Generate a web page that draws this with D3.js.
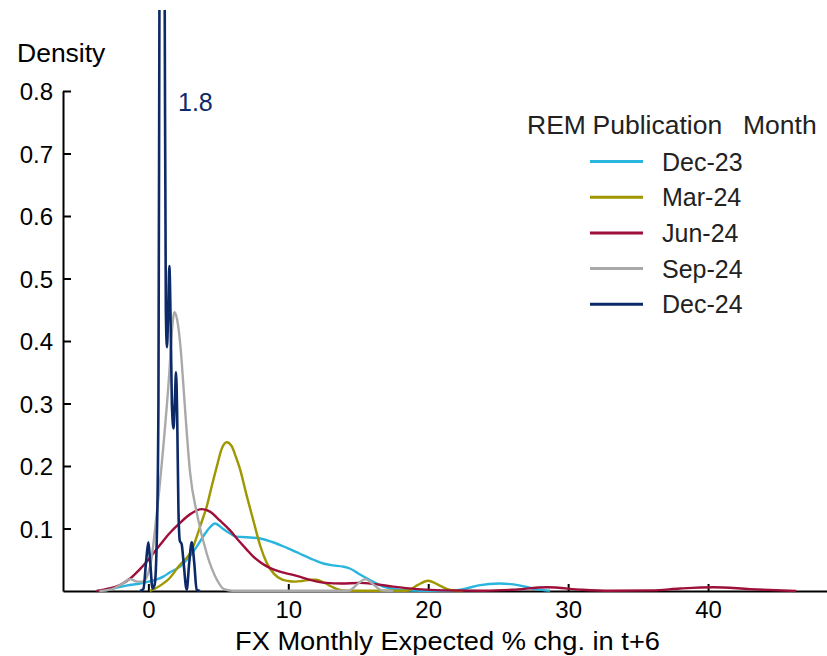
<!DOCTYPE html>
<html>
<head>
<meta charset="utf-8">
<script src="https://cdn.jsdelivr.net/npm/d3@7"></script>
<style>
  html, body { margin: 0; padding: 0; background: #ffffff; }
  svg { display: block; font-family: "Liberation Sans", Arial, sans-serif; }
</style>
</head>
<body>
<svg id="chart" width="827" height="656"></svg>
<script>
// ---- Data ----
const seriesNames = ["Dec-23", "Mar-24", "Jun-24", "Sep-24", "Dec-24"];
const seriesColors = ["#29b5de", "#9f9700", "#9e0f3a", "#a9a9a9", "#0d2a68"];

const xTicks = [0, 10, 20, 30, 40];
const yTicks = [0.1, 0.2, 0.3, 0.4, 0.5, 0.6, 0.7, 0.8];

// each point: [FX monthly expected % chg, density]
const dec23 = [[-3.4,0],[-2.5,0.004],[-1.5,0.009],[-0.6,0.012],[0,0.015],[1.07,0.023],[1.55,0.03],[2.26,0.039],[2.9,0.054],[3.46,0.071],[4.0,0.09],[4.4,0.102],[4.76,0.108],[5.3,0.1],[5.84,0.092],[6.3,0.087],[7.0,0.086],[7.98,0.084],[8.9,0.078],[9.9,0.069],[10.8,0.06],[11.8,0.05],[12.5,0.044],[13.2,0.041],[13.9,0.039],[14.4,0.036],[15.0,0.028],[15.8,0.018],[16.8,0.007],[18,0.002],[19.5,0.0005],[21.5,0.0005],[22.5,0.003],[23.6,0.009],[25.1,0.012],[26.5,0.009],[27.7,0.003],[28.7,0.0005]];

const mar24 = [[0.1,0],[0.5,0.004],[1.0,0.011],[1.5,0.02],[2.26,0.042],[2.7,0.052],[3.1,0.065],[3.46,0.087],[3.8,0.11],[4.17,0.135],[4.5,0.165],[4.89,0.199],[5.25,0.228],[5.6,0.238],[5.95,0.232],[6.25,0.215],[6.55,0.195],[7.0,0.155],[7.5,0.113],[8.0,0.072],[8.46,0.045],[9.0,0.027],[9.5,0.019],[10.0,0.016],[10.5,0.015],[11.0,0.016],[11.6,0.018],[12.0,0.018],[12.5,0.014],[13.0,0.008],[13.5,0.003],[14.2,0.0005],[18.5,0.0005],[19.2,0.009],[20.0,0.0165],[20.8,0.009],[21.5,0.002],[22.5,0]];

const jun24 = [[-3.7,0],[-2.8,0.004],[-2.0,0.01],[-1.3,0.02],[-0.6,0.035],[0,0.05],[0.84,0.074],[1.5,0.092],[2.26,0.109],[3.0,0.123],[3.8,0.131],[4.4,0.127],[5.1,0.113],[5.84,0.097],[6.4,0.082],[7.0,0.067],[7.5,0.055],[8.0,0.046],[8.5,0.039],[9.4,0.031],[10.1,0.027],[10.8,0.023],[11.7,0.017],[12.7,0.013],[13.8,0.012],[15.1,0.013],[16.2,0.011],[17.5,0.007],[19.2,0.003],[21,0.001],[24,0.0005],[26,0.002],[28.5,0.006],[31,0.002],[33,0.0005],[36,0.001],[38,0.004],[40.4,0.006],[43,0.003],[46.3,0]];

const sep24 = [[-3.5,0],[-2.6,0.003],[-1.9,0.011],[-1.3,0.019],[-0.8,0.015],[-0.4,0.015],[0.12,0.039],[0.6,0.124],[1.07,0.231],[1.5,0.35],[1.7,0.42],[1.86,0.446],[2.05,0.435],[2.3,0.39],[2.5,0.33],[2.69,0.27],[2.98,0.19],[3.46,0.125],[4.17,0.06],[4.9,0.018],[5.4,0.003],[6.0,0.0005],[14.3,0.0005],[15.0,0.012],[15.5,0.019],[16.0,0.012],[16.7,0.001],[17.5,0]];

const dec24 = [[-0.6,0],[-0.36,0.003],[-0.15,0.05],[0,0.078],[0.12,0.05],[0.3,0.004],[0.45,0.01],[0.6,0.08],[0.72,0.3],[0.79,0.93],[0.88,1.55],[0.98,1.8],[1.08,1.55],[1.17,0.93],[1.25,0.45],[1.33,0.39],[1.42,0.45],[1.5,0.52],[1.6,0.42],[1.68,0.3],[1.8,0.26],[1.9,0.31],[1.98,0.35],[2.06,0.28],[2.15,0.13],[2.25,0.08],[2.38,0.075],[2.5,0.05],[2.74,0.002],[2.92,0.045],[3.1,0.078],[3.28,0.045],[3.45,0.002],[3.7,0]];

const seriesData = [dec23, mar24, jun24, sep24, dec24];
const peakLabel = "1.8";
const legendTitleWords = ["REM", "Publication", "Month"];

// ---- Layout ----
const svg = d3.select("#chart");
const W = 827, H = 656;

const x = d3.scaleLinear().domain([-6.1, 48.5]).range([63, 827]);
const y = d3.scaleLinear().domain([0, 0.8]).range([591, 91]);

svg.append("defs").append("clipPath").attr("id", "plotClip")
  .append("rect").attr("x", 63).attr("y", 10).attr("width", W - 63).attr("height", 591 - 10 + 2);

// Y axis
const yAxis = d3.axisLeft(y).tickValues(yTicks).tickSizeInner(-8).tickSizeOuter(0)
  .tickPadding(10).tickFormat(d3.format(".1f"));
const gy = svg.append("g").attr("transform", "translate(63,0)").call(yAxis);
gy.select(".domain").attr("stroke", "#000").attr("stroke-width", 2);
gy.selectAll(".tick line").attr("stroke", "#000").attr("stroke-width", 2);
gy.selectAll(".tick text").attr("font-size", 24).attr("fill", "#000")
  .attr("font-family", "Liberation Sans, Arial, sans-serif").attr("dy", "0.36em");

// X axis
const xAxis = d3.axisBottom(x).tickValues(xTicks).tickSizeInner(-7).tickSizeOuter(0).tickPadding(10);
const gx = svg.append("g").attr("transform", "translate(0,591)").call(xAxis);
gx.select(".domain").attr("stroke", "#000").attr("stroke-width", 2);
gx.selectAll(".tick line").attr("stroke", "#000").attr("stroke-width", 2);
gx.selectAll(".tick text").attr("font-size", 24).attr("fill", "#000")
  .attr("font-family", "Liberation Sans, Arial, sans-serif");

// Axis titles
svg.append("text").attr("x", 17).attr("y", 62).attr("font-size", 26.5).attr("fill", "#000").text("Density");
svg.append("text").attr("x", 235).attr("y", 650)
  .attr("font-size", 26.5).attr("fill", "#000")
  .attr("textLength", 425).attr("lengthAdjust", "spacingAndGlyphs")
  .text("FX Monthly Expected % chg. in t+6");

// Lines
const line = d3.line().x(d => x(d[0])).y(d => y(d[1])).curve(d3.curveMonotoneX);
const gLines = svg.append("g").attr("clip-path", "url(#plotClip)");
seriesData.forEach((s, i) => {
  gLines.append("path").datum(s)
    .attr("fill", "none")
    .attr("stroke", seriesColors[i])
    .attr("stroke-width", i === 4 ? 2.6 : 2.4)
    .attr("stroke-linejoin", "round")
    .attr("d", line);
});

// Peak label for clipped series
svg.append("text").attr("x", 178).attr("y", 111).attr("font-size", 25)
  .attr("fill", seriesColors[4]).text(peakLabel);

// Legend
const lg = svg.append("g");
const titleX = [527, 592.5, 743];
const tt = lg.append("text").attr("y", 134).attr("font-size", 26.5).attr("fill", "#222");
legendTitleWords.forEach((w, i) => tt.append("tspan").attr("x", titleX[i]).text(w));
seriesNames.forEach((name, i) => {
  const yy = 161.5 + i * 35.7;
  lg.append("line").attr("x1", 590).attr("x2", 643).attr("y1", yy).attr("y2", yy)
    .attr("stroke", seriesColors[i]).attr("stroke-width", 3);
  lg.append("text").attr("x", 662).attr("y", yy + 9).attr("font-size", 25)
    .attr("fill", "#222").text(name);
});
</script>
</body>
</html>
